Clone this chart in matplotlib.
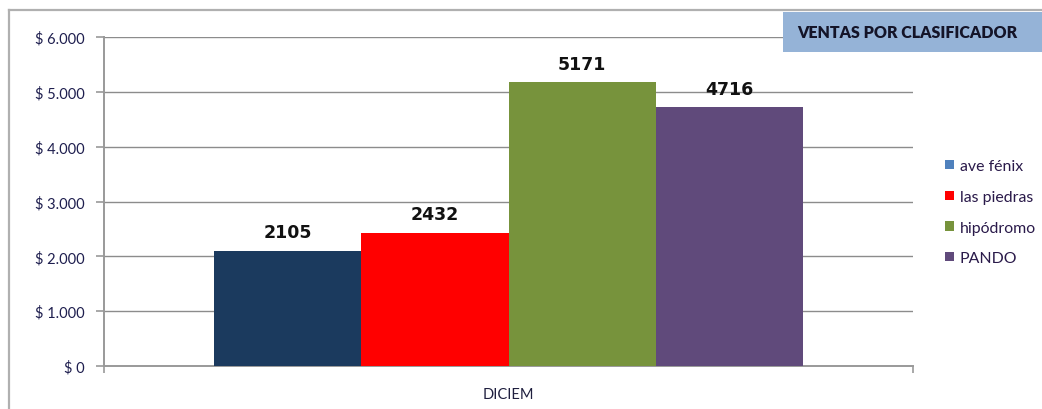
import matplotlib
matplotlib.use("Agg")
import matplotlib.pyplot as plt
from matplotlib.patches import Rectangle, Patch
from matplotlib.lines import Line2D
from matplotlib.ticker import FuncFormatter

# data
category = "DICIEM"
series = ["ave fénix", "las piedras", "hipódromo", "PANDO"]
values = [2105, 2432, 5171, 4716]
bar_colors = ["#1b3a5e", "#ff0000", "#77933c", "#604a7b"]
legend_colors = ["#4f81bd", "#ff0000", "#77933c", "#604a7b"]
yticks = [0, 1000, 2000, 3000, 4000, 5000, 6000]

W, H = 1042, 410
fig = plt.figure(figsize=(W / 100, H / 100), dpi=100)
fig.patch.set_facecolor("white")

# outer chart frame (left + top edge visible)
fig.add_artist(Line2D([9 / W, 9 / W], [0, 1 - 11 / H], color="#b0b0b0", lw=1.6))
fig.add_artist(Line2D([9 / W, 1], [1 - 11 / H, 1 - 11 / H], color="#b0b0b0", lw=1.6))

# title box
fig.add_artist(Rectangle((783 / W, 1 - 53 / H), (W - 783) / W, 40 / H,
                         facecolor="#95b3d7", edgecolor="none"))
fig.text(797 / W, 1 - 33 / H, "VENTAS POR CLASIFICADOR", ha="left", va="center",
         fontsize=11.5, fontweight="heavy", color="#141428", family="Lato")

left, right, top, bottom = 104, 913, 38, 367
ax = fig.add_axes([left / W, 1 - bottom / H, (right - left) / W, (bottom - top) / H])

n = len(values)
bw = 147.25 / (right - left)
xs = [(i - (n - 1) / 2) * bw for i in range(n)]
ax.bar(xs, values, width=bw, color=bar_colors, zorder=3)
for x, v in zip(xs, values):
    ax.text(x, v + 170, f"{v}", ha="center", va="bottom", fontsize=12.5,
            fontweight="bold", color="#111111", family="DejaVu Sans")

ax.set_xlim(-0.5, 0.5)
ax.set_ylim(0, 6000)
ax.set_yticks(yticks)
ax.yaxis.set_major_formatter(FuncFormatter(lambda v, p: "$ " + f"{int(v):,}".replace(",", ".")))
ax.yaxis.grid(True, color="#8c8c8c", lw=1, zorder=0)
ax.set_xticks([-0.5, 0.5], minor=False)
ax.set_xticklabels(["", ""])
ax.tick_params(axis="x", length=5, color="#999999", width=1.2)
ax.tick_params(axis="y", length=6, color="#999999", width=1.2, pad=8,
               labelsize=10.5, labelcolor="#1f1f4f")
for lab in ax.get_yticklabels():
    lab.set_family("Lato")
ax.text(0.5, -0.085, category, transform=ax.transAxes, ha="center", va="center",
        fontsize=10.5, color="#1f1f3f", family="Lato")
for s in ["top", "right"]:
    ax.spines[s].set_visible(False)
for s in ["left", "bottom"]:
    ax.spines[s].set_color("#999999")
    ax.spines[s].set_linewidth(1.4)

handles = [Patch(facecolor=c, edgecolor="none") for c in legend_colors]
fig.legend(handles, series, loc="upper left", bbox_to_anchor=(931 / W, 1 - 146 / H),
           frameon=False, labelspacing=1.05, handlelength=0.55,
           handleheight=0.55, handletextpad=0.35, prop={"family": "Lato", "size": 11.4},
           labelcolor="#2a1a4a")

fig.savefig("out.png", dpi=100)
